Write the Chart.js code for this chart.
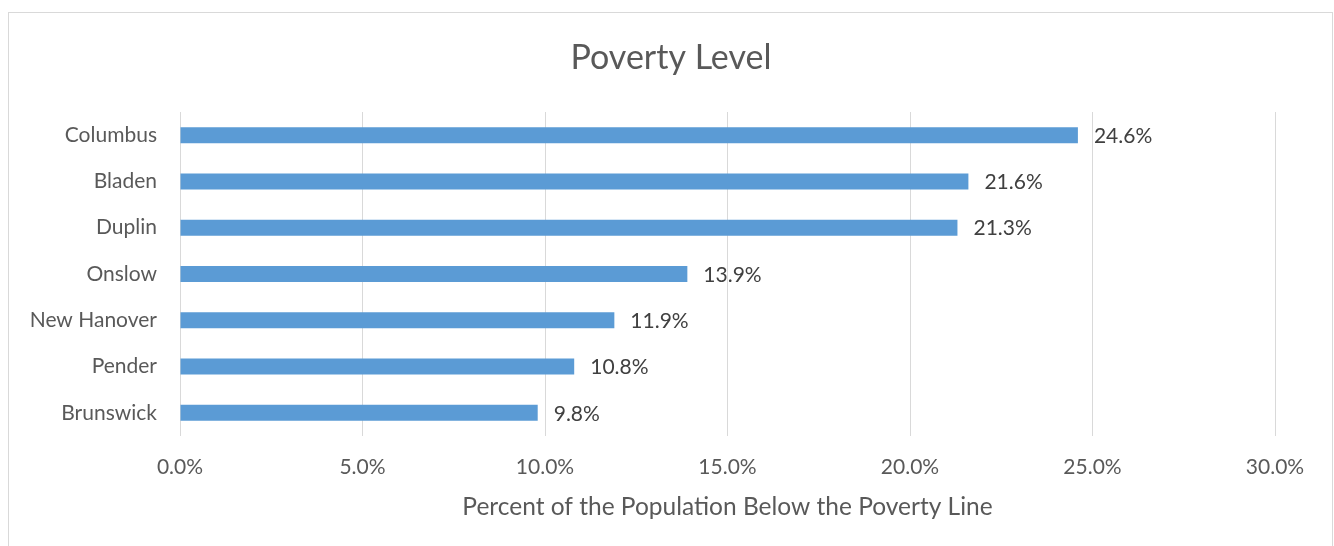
<!DOCTYPE html>
<html>
<head>
<meta charset="utf-8">
<script src="https://cdn.jsdelivr.net/npm/chart.js@4"></script>
<style>
html,body{margin:0;padding:0;background:#fff;}
#wrap{width:1334px;height:546px;position:relative;}
</style>
</head>
<body>
<div id="wrap"><canvas id="c" width="1334" height="546"></canvas></div>
<script>
const categories = ["Columbus", "Bladen", "Duplin", "Onslow", "New Hanover", "Pender", "Brunswick"];
const povertyRates = [24.6, 21.6, 21.3, 13.9, 11.9, 10.8, 9.8];
const chartTitle = "Poverty Level";
const xAxisTitle = "Percent of the Population Below the Poverty Line";

const FONT = "Lato, 'Open Sans', sans-serif";

const frame = {
  id: 'frame',
  beforeDraw(chart) {
    const ctx = chart.ctx;
    ctx.save();
    ctx.strokeStyle = '#d9d9d9';
    ctx.lineWidth = 1;
    ctx.strokeRect(8.5, 12.5, 1324, 600);
    ctx.restore();
  }
};

const valueLabels = {
  id: 'valueLabels',
  afterDatasetsDraw(chart) {
    const ctx = chart.ctx;
    const meta = chart.getDatasetMeta(0);
    ctx.save();
    ctx.font = "21px " + FONT;
    ctx.fillStyle = '#404040';
    ctx.textAlign = 'left';
    ctx.textBaseline = 'middle';
    meta.data.forEach((bar, i) => {
      ctx.fillText(povertyRates[i].toFixed(1) + '%', bar.x + 16, bar.y + 1);
    });
    ctx.restore();
  }
};

new Chart(document.getElementById('c'), {
  type: 'bar',
  data: {
    labels: categories,
    datasets: [{
      data: povertyRates,
      backgroundColor: '#5B9BD5',
      borderWidth: 0,
      barPercentage: 0.345,
      categoryPercentage: 1
    }]
  },
  options: {
    indexAxis: 'y',
    responsive: false,
    animation: false,
    layout: { padding: { left: 8, right: 0, top: 0, bottom: 0 } },
    plugins: {
      legend: { display: false },
      tooltip: { enabled: false },
      title: {
        display: true,
        text: chartTitle,
        color: '#595959',
        font: { family: FONT, size: 34, weight: 'normal' },
        padding: { top: 37.6, bottom: 33.6 }
      }
    },
    scales: {
      x: {
        min: 0,
        max: 30,
        ticks: {
          stepSize: 5,
          color: '#595959',
          font: { family: FONT, size: 21 },
          padding: 18.4,
          callback: v => Number(v).toFixed(1) + '%'
        },
        grid: { color: '#d9d9d9', drawTicks: false, lineWidth: 1 },
        border: { display: false },
        title: {
          display: true,
          text: xAxisTitle,
          color: '#595959',
          font: { family: FONT, size: 24.5 },
          padding: { top: 24, bottom: 24 }
        },
        afterFit(scale) { scale.height = 110; }
      },
      y: {
        ticks: {
          color: '#595959',
          font: { family: FONT, size: 21 },
          padding: 23
        },
        grid: { display: false, drawTicks: false },
        border: { display: false },
        afterFit(scale) { scale.width = 172; }
      },
      ySpacer: {
        type: 'linear',
        position: 'right',
        display: true,
        ticks: { display: false },
        grid: { display: false, drawTicks: false },
        border: { display: false },
        afterFit(scale) { scale.width = 59; }
      }
    }
  },
  plugins: [frame, valueLabels]
});
</script>
</body>
</html>
